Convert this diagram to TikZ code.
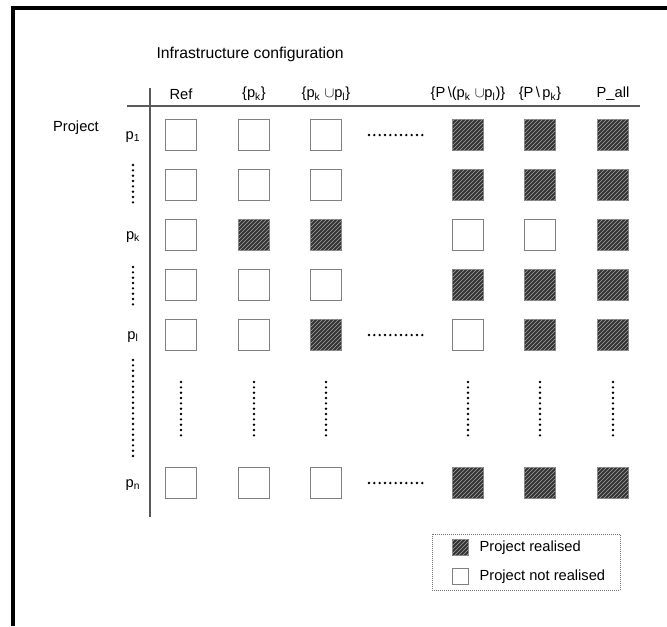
\documentclass[tikz,border=0pt]{standalone}
\usepackage{fontspec}
\setmainfont{Liberation Sans}
\usetikzlibrary{patterns,positioning}

\begin{document}
\begin{tikzpicture}[x=0.75pt,y=-0.75pt,
  every node/.style={font=\fontsize{11}{13}\selectfont, inner sep=1pt},
  box/.style={draw=black!50, line width=0.9pt, minimum size=23.5pt, inner sep=0pt},
  yes/.style={box, fill=black!80, postaction={pattern=north east lines, pattern color=black!35}},
  no/.style={box, fill=white},
  dots/.style={line width=2pt, line cap=round, dash pattern=on 0pt off 4pt},
  axis/.style={draw=black!65, line width=0.8pt}]

\useasboundingbox (0,0) rectangle (667,626);
\draw[line width=2.3pt] (667,8) -- (13,8) -- (13,626);

% columns and rows
\foreach \x [count=\c] in {181,254,326,468,540,613}
  \coordinate (col\c) at (\x,0);
\foreach \y [count=\r] in {135,185,235,285,335,483}
  \coordinate (row\r) at (0,\y);

\node[anchor=west, font=\fontsize{11.8}{14}\selectfont] (title) at (155,54) {Infrastructure configuration};
\node (project) at (76,128) {Project};

\node (h1) at (col1 |- 0,94) {Ref};
\node (h2) at (col2 |- 0,94) {\{p\textsubscript{k}\}};
\node (h3) at (col3 |- 0,94) {\{p\textsubscript{k} $\cup$p\textsubscript{l}\}};
\node (h4) at (col4 |- 0,94) {\{P\,\textbackslash(p\textsubscript{k} $\cup$p\textsubscript{l})\}};
\node (h5) at (col5 |- 0,94) {\{P\,\textbackslash\,p\textsubscript{k}\}};
\node (h6) at (col6 |- 0,94) {P\_all};

\draw[axis] (127,106) -- (640,106);
\draw[axis] (150,88) -- (150,517);

\node (p1) at (133,137) {p\textsubscript{1}};
\node (pk) at (133,237) {p\textsubscript{k}};
\node (pl) at (133,337) {p\textsubscript{l}};
\node (pn) at (133,485) {p\textsubscript{n}};

% cells
\foreach \st/\r in {{no,no,no,yes,yes,yes}/1, {no,no,no,yes,yes,yes}/2,
    {no,yes,yes,no,no,yes}/3, {no,no,no,yes,yes,yes}/4,
    {no,no,yes,no,yes,yes}/5, {no,no,no,yes,yes,yes}/6}
  \foreach \s [count=\c] in \st
    \node[\s] (c-\r-\c) at (col\c |- row\r) {};

% dotted gaps
\draw[dots] (133,165) -- (133,205);
\draw[dots] (133,267) -- (133,305);
\draw[dots] (133,360) -- (133,459);
\foreach \c in {1,...,6}
  \draw[dots] (col\c |- 0,382) -- (col\c |- 0,437);
\foreach \r in {1,5,6}
  \draw[dots] (369,0 |- row\r) -- (423,0 |- row\r);

% legend
\draw[black!55, densely dotted, line width=0.5pt] (432,534) rectangle (620,590);
\node[yes, minimum size=12.5pt] (ly) at (460.5,547.5) {};
\node[no, minimum size=12.5pt] (ln) at (460.5,576.5) {};
\node[anchor=west] at (478,547.5) {Project realised};
\node[anchor=west] at (478,576.5) {Project not realised};
\end{tikzpicture}
\end{document}
